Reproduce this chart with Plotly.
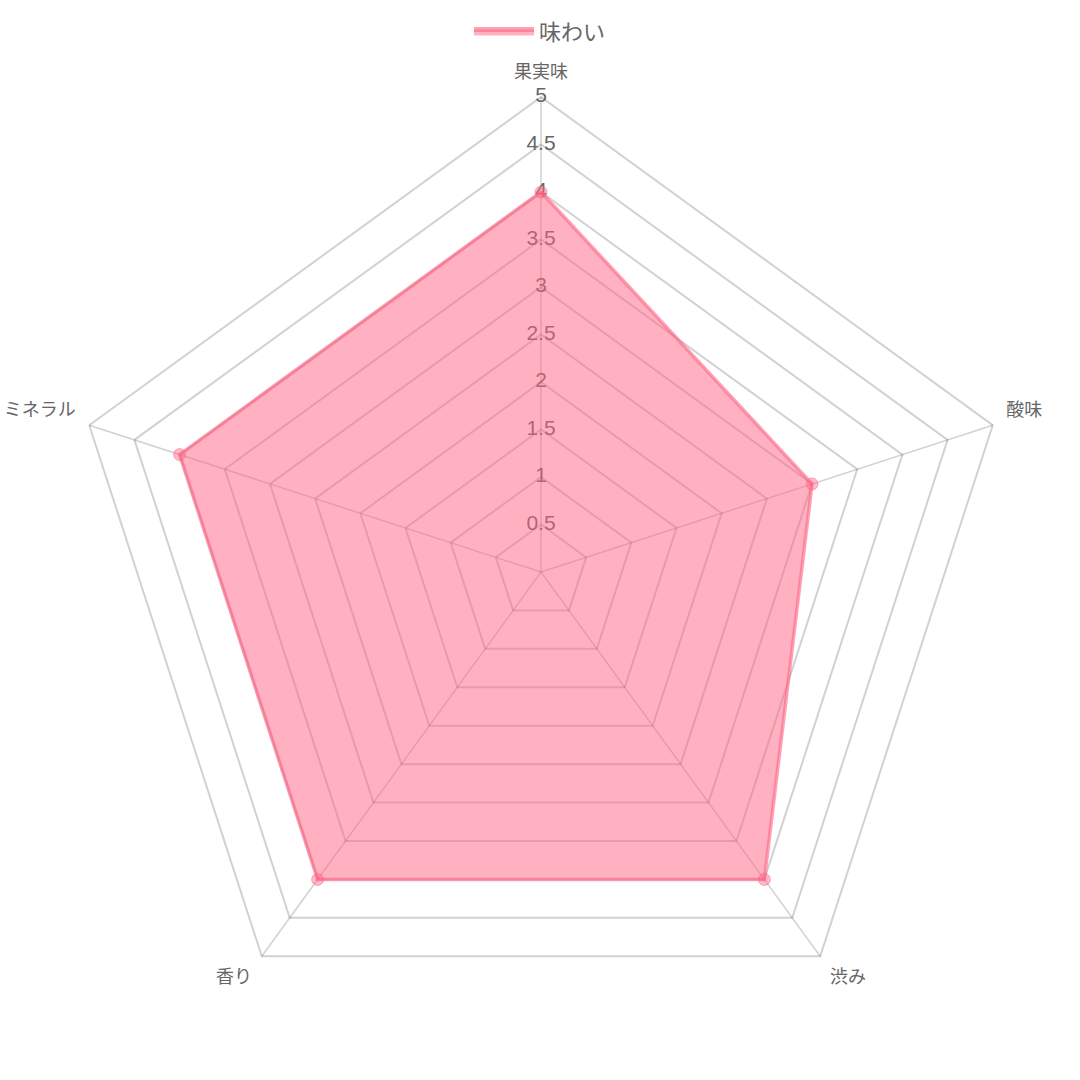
import plotly.graph_objects as go

categories = ["果実味", "酸味", "渋み", "香り", "ミネラル"]
values = [4, 3, 4, 4, 4]
series_name = "味わい"
tick_values = [0.5, 1, 1.5, 2, 2.5, 3, 3.5, 4, 4.5, 5]
tick_labels = ["0.5", "1", "1.5", "2", "2.5", "3", "3.5", "4", "4.5", "5"]

font_family = "Liberation Sans, Noto Sans CJK JP, sans-serif"
gray_text = "#666666"
grid_color = "rgba(0,0,0,0.18)"

r_max = tick_values[-1]
r_range_max = r_max * 1.045   # headroom so point labels sit outside the outer ring
label_offsets = [1.03, 1.03, 1.035, 1.035, 1.03]
label_positions = ["top center", "top right", "bottom right", "bottom left", "top left"]

# polar frame: outer ring (value 5) has a radius of 475 px centred at (541, 572)
ring_px = 475
frame_px = ring_px * r_range_max / r_max
cx, cy_top = 541, 572
cy = 1080 - cy_top

fig = go.Figure()

# spokes (angle lines) from centre to the outer ring
for cat in categories:
    fig.add_trace(go.Scatterpolar(
        r=[0, r_max],
        theta=[cat, cat],
        mode="lines",
        line=dict(color=grid_color, width=1.5),
        showlegend=False,
        hoverinfo="skip",
    ))

# radial tick labels, drawn beneath the data fill
fig.add_trace(go.Scatterpolar(
    r=tick_values,
    theta=[categories[0]] * len(tick_values),
    mode="text",
    text=tick_labels,
    textfont=dict(size=21, color=gray_text, family=font_family),
    textposition="middle center",
    showlegend=False,
    hoverinfo="skip",
    cliponaxis=False,
))

# category (point) labels just outside the outer ring
fig.add_trace(go.Scatterpolar(
    r=[r_max * k for k in label_offsets],
    theta=categories,
    mode="text",
    text=categories,
    textfont=dict(size=18, color=gray_text, family=font_family),
    textposition=label_positions,
    showlegend=False,
    hoverinfo="skip",
    cliponaxis=False,
))

fig.add_trace(go.Scatterpolar(
    r=values + [values[0]],
    theta=categories + [categories[0]],
    name=series_name,
    mode="lines",
    fill="toself",
    fillcolor="rgba(255,99,132,0.5)",
    line=dict(color="rgba(255,99,132,0.6)", width=3.5),
    cliponaxis=False,
))

fig.add_trace(go.Scatterpolar(
    r=values,
    theta=categories,
    mode="markers",
    marker=dict(size=12, color="rgba(255,99,132,0.45)",
                line=dict(color="rgba(255,99,132,0.5)", width=1)),
    showlegend=False,
    hoverinfo="skip",
    cliponaxis=False,
))

fig.update_layout(
    width=1080,
    height=1080,
    margin=dict(l=0, r=0, t=0, b=0),
    paper_bgcolor="white",
    plot_bgcolor="white",
    font=dict(family=font_family, color=gray_text),
    showlegend=True,
    legend=dict(
        orientation="h",
        x=0.5, xanchor="center",
        y=0.99, yanchor="top",
        font=dict(size=22, color=gray_text, family=font_family),
        itemsizing="constant",
        itemwidth=60,
    ),
    polar=dict(
        gridshape="linear",
        bgcolor="white",
        domain=dict(
            x=[(cx - frame_px) / 1080, (cx + frame_px) / 1080],
            y=[(cy - frame_px) / 1080, (cy + frame_px) / 1080],
        ),
        radialaxis=dict(
            range=[0, r_range_max],
            tickvals=tick_values,
            showticklabels=False,
            ticks="",
            showline=False,
            gridcolor=grid_color,
            gridwidth=1.5,
            angle=90,
        ),
        angularaxis=dict(
            direction="clockwise",
            rotation=90,
            showticklabels=False,
            ticks="",
            showline=False,
            showgrid=False,
        ),
    ),
)

fig.write_html("out.html")
